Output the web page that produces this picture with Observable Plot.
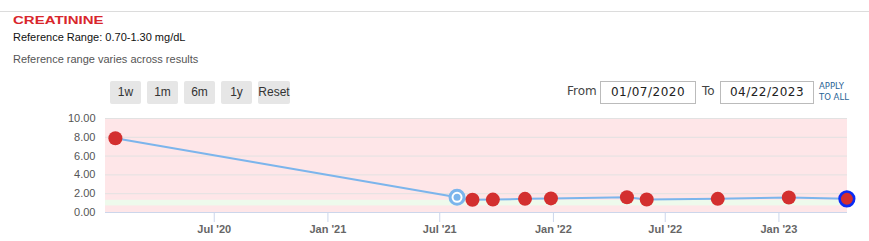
<!DOCTYPE html>
<html><head><meta charset="utf-8">
<script src="https://cdn.jsdelivr.net/npm/d3@7"></script>
<script src="https://cdn.jsdelivr.net/npm/@observablehq/plot@0.6"></script>
<style>
body{margin:0;width:869px;height:241px;overflow:hidden;background:#fff;font-family:"Liberation Sans",Arial,sans-serif;position:relative}
.topline{position:absolute;left:0;top:11px;width:869px;height:1px;background:#dcdcdc}
.title{position:absolute;left:13px;top:10px;font-weight:bold;font-size:15px;color:#d9262c;line-height:15px;transform:scaleY(0.72);transform-origin:left bottom}
.ref{position:absolute;left:13px;top:31px;font-size:11px;color:#111}
.var{position:absolute;left:13px;top:53px;font-size:11px;color:#555}
.btn{position:absolute;top:81px;height:23px;background:#e6e6e6;font-size:12px;color:#333;text-align:center;line-height:22px;border-radius:2px}
.lbl{position:absolute;top:84px;font-family:"DejaVu Sans",sans-serif;font-size:12px;color:#444}
.inp{position:absolute;top:81px;height:21px;border:1px solid #bbb;font-family:"DejaVu Sans",sans-serif;font-size:12px;color:#222;line-height:21px;text-align:center;letter-spacing:0.5px}
.apply{position:absolute;left:819px;top:81px;font-family:"DejaVu Sans",sans-serif;font-size:8.5px;color:#2a6496;line-height:11px}
#chart{position:absolute;left:0;top:105px}
</style></head><body>
<div class="topline"></div>
<div class="title">CREATININE</div>
<div class="ref">Reference Range: 0.70-1.30 mg/dL</div>
<div class="var">Reference range varies across results</div>
<div class="btn" style="left:110px;width:31px">1w</div>
<div class="btn" style="left:147px;width:31px">1m</div>
<div class="btn" style="left:184px;width:31px">6m</div>
<div class="btn" style="left:221px;width:31px">1y</div>
<div class="btn" style="left:258px;width:32px">Reset</div>
<div class="lbl" style="left:567px">From</div>
<div class="inp" style="left:600px;width:94px">01/07/2020</div>
<div class="lbl" style="left:702px">To</div>
<div class="inp" style="left:720px;width:92px">04/22/2023</div>
<div class="apply">APPLY<br>TO ALL</div>
<div id="chart"></div>
<script>
const dates = ["2020-01-23","2021-07-29","2021-08-23","2021-09-25","2021-11-16","2021-12-28","2022-04-30","2022-06-01","2022-09-24","2023-01-17","2023-04-21"];
const values = [7.9,1.62,1.35,1.37,1.45,1.5,1.62,1.38,1.45,1.6,1.45];
const tickDates = ["2020-07-01","2021-01-01","2021-07-01","2022-01-01","2022-07-01","2023-01-01"];
const tickLabels = ["Jul '20","Jan '21","Jul '21","Jan '22","Jul '22","Jan '23"];
const yTicks = [0,2,4,6,8,10];
const refLow = 0.7, refHigh = 1.3;
const domainStart = "2020-01-07", domainEnd = "2023-04-22";

const data = dates.map((d,i)=>({date:new Date(d+"T00:00:00"), value:values[i], i}));
const ticks = tickDates.map(d=>new Date(d+"T00:00:00"));
const red = data.filter(d=>d.i!==1);
const hover = data.filter(d=>d.i===1);
const last = data.filter(d=>d.i===data.length-1);
const x0 = new Date(domainStart+"T00:00:00"), x1 = new Date(domainEnd+"T00:00:00");

const chart = Plot.plot({
  width:869, height:136,
  marginLeft:105, marginRight:22, marginTop:13, marginBottom:29,
  style:{fontFamily:"Liberation Sans, Arial, sans-serif", fontSize:"11px", overflow:"visible"},
  x:{type:"time", domain:[x0,x1]},
  y:{domain:[0,10]},
  marks:[
    Plot.rect([{}],{x1:x0,x2:x1,y1:0,y2:10,fill:"#fee6e8"}),
    Plot.rect([{}],{x1:x0,x2:x1,y1:refLow,y2:refHigh,fill:"#eefaec"}),
    Plot.gridY(yTicks.filter(v=>v>0),{stroke:"#e2e2e2",strokeOpacity:1}),
    Plot.ruleY([0],{stroke:"#ccd6eb"}),
    Plot.axisY(yTicks,{tickSize:0,tickPadding:10,tickFormat:d=>d.toFixed(2),fill:"#555",fontSize:11,label:null}),
    Plot.axisX(ticks,{tickSize:10,stroke:"#ccd6eb",tickPadding:3,tickFormat:(d,i)=>tickLabels[i],fill:"#666",fontWeight:"bold",fontSize:11,label:null}),
    Plot.line(data,{x:"date",y:"value",stroke:"#7cb5ec",strokeWidth:2}),
    Plot.dot(red,{x:"date",y:"value",r:7,fill:"#d32f2f"}),
    Plot.dot(last,{x:"date",y:"value",r:7.3,fill:"#d32f2f",stroke:"#0a2cf5",strokeWidth:2.6}),
    Plot.dot(hover,{x:"date",y:"value",r:7,fill:"#fff",stroke:"#7cb5ec",strokeWidth:3}),
    Plot.dot(hover,{x:"date",y:"value",r:3.5,fill:"#7cb5ec"})
  ]
});
document.getElementById("chart").appendChild(chart);
</script>
</body></html>
